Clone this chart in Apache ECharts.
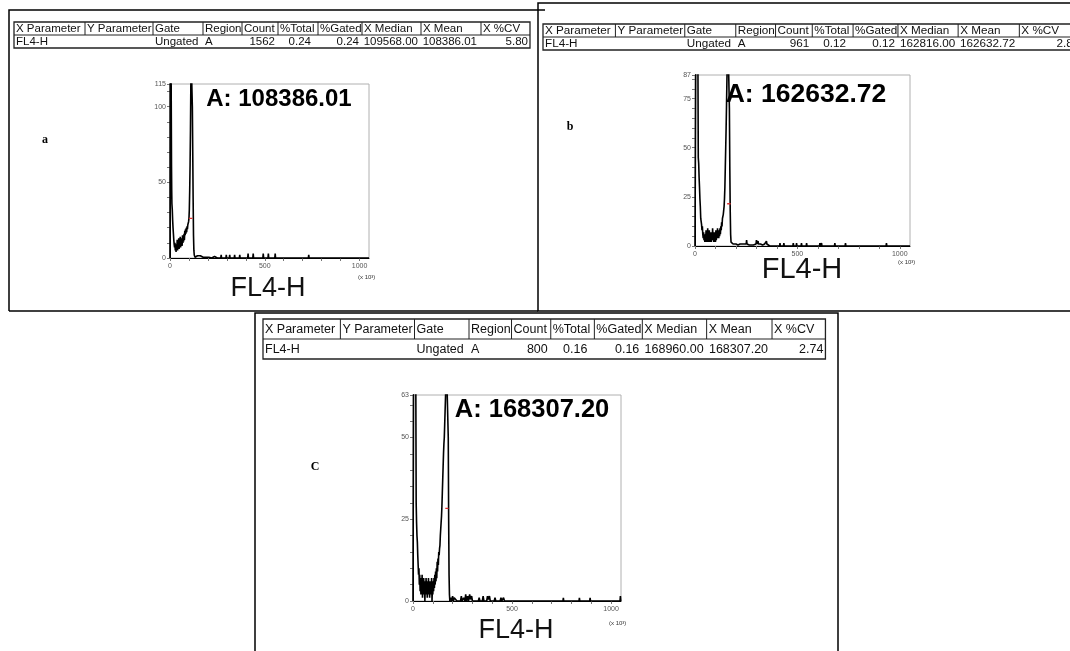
<!DOCTYPE html>
<html>
<head>
<meta charset="utf-8">
<script src="https://cdn.jsdelivr.net/npm/echarts@6/dist/echarts.min.js"></script>
<style>
html,body{margin:0;padding:0;background:#fff;}
#chart{width:1070px;height:651px;}
</style>
</head>
<body>
<div id="chart"></div>
<script>
// ---------- table data ----------
const tableHeader = ['X Parameter','Y Parameter','Gate','Region','Count','%Total','%Gated','X Median','X Mean','X %CV'];
const rowA = ['FL4-H','','Ungated','A','1562','0.24','0.24','109568.00','108386.01','5.80'];
const rowB = ['FL4-H','','Ungated','A','961','0.12','0.12','162816.00','162632.72','2.80'];
const rowC = ['FL4-H','','Ungated','A','800','0.16','0.16','168960.00','168307.20','2.74'];
const panelLetters = ['a','b','C'];
const xAxisLabel = 'FL4-H';

// ---------- axis ticks ----------
const xTickLabels = [0, 500, 1000];
const yTickLabelsA = [0, 50, 100, 115];
const yTickLabelsB = [0, 25, 50, 75, 87];
const yTickLabelsC = [0, 25, 50, 63];

// ---------- histogram data [FL4-H (x10^3), count] ----------
const histA = [[0,0],[1,130],[4,130],[6,120],[8,60],[9,45],[10,36],[12,32],[14,25],[16,20],[18,16],[20,12],[22,9],[24,7],[26,10],[28,5],[30,8],[32,4],[34,9],[36,6],[38,12],[40,5],[42,10],[44,7],[46,13],[48,6],[50,11],[52,8],[54,14],[56,7],[58,12],[60,9],[62,13],[64,8],[66,15],[68,10],[70,14],[72,11],[74,16],[76,12],[78,18],[80,15],[82,19],[84,16],[86,20],[88,17],[90,21],[92,19],[94,22],[96,21],[98,24],[100,26],[102,32],[104,45],[106,62],[108,85],[110,115],[112,130],[115,130],[118,100],[120,70],[122,40],[124,15],[126,5],[128,2],[132,0.5],[136,1],[140,0.5],[145,1.5],[150,0.5],[155,1],[160,1.5],[165,0.5],[170,1.5],[175,0.5],[180,1],[185,1.5],[190,0.5],[195,1],[200,1.5],[205,0.5],[210,1],[215,1.5],[220,0],[225,1],[230,0],[235,1],[240,0],[245,1],[250,0],[268,0],[270,2],[272,0],[295,0],[297,2],[299,0],[313,0],[315,2],[317,0],[339,0],[341,2],[343,0],[366,0],[368,2],[370,0],[410,0],[412,3],[414,0],[437,0],[439,3],[441,0],[490,0],[492,3],[494,0],[517,0],[519,3],[521,0],[553,0],[555,3],[557,0],[730,0],[732,2],[734,0],[1050,0]];

const histB = [[0,0],[3,0],[4,100],[14,100],[16,45],[18,42],[20,35],[22,30],[24,24],[26,20],[28,14],[30,13],[32,11],[34,8],[36,10],[38,6],[40,4],[42,7],[44,3],[46,5],[48,2],[50,6],[52,3],[54,8],[56,2],[58,5],[60,3],[62,9],[64,2],[66,6],[68,4],[70,8],[72,2],[74,5],[76,3],[78,7],[80,2],[82,6],[84,3],[86,9],[88,4],[90,6],[92,2],[94,7],[96,3],[98,5],[100,2],[102,8],[104,3],[106,6],[108,4],[110,9],[112,5],[114,7],[116,4],[118,8],[120,5],[122,9],[124,6],[126,10],[128,8],[130,12],[132,10],[134,14],[136,13],[138,16],[140,18],[142,20],[144,24],[146,30],[148,40],[150,50],[152,60],[154,72],[156,85],[158,95],[162,100],[166,100],[168,70],[170,40],[172,18],[174,6],[176,2],[178,1],[182,2],[186,1],[190,1.5],[195,0.5],[200,1],[205,1],[210,0.5],[215,1],[220,1],[225,0.5],[230,1],[235,0.5],[240,1],[245,0.5],[250,1],[252,3],[254,1],[260,1],[265,0.5],[270,1],[275,0.5],[280,1],[285,0.5],[290,1],[298,1],[300,3],[302,1],[306,1],[308,2.5],[310,1],[320,1],[330,0.5],[340,1],[347,1],[349,2.5],[351,1],[355,0.5],[360,1],[365,0],[413,0],[415,1.5],[417,0],[432,0],[434,1.5],[436,0],[478,0],[480,1.5],[482,0],[494,0],[496,1.5],[498,0],[518,0],[520,1.5],[522,0],[543,0],[545,1.5],[547,0],[608,0],[610,1.5],[612,0],[616,0],[618,1.5],[620,0],[681,0],[683,1.5],[685,0],[733,0],[735,1.5],[737,0],[933,0],[935,1.5],[937,0],[1050,0]];

const histC = [[0,0],[2,0],[3,70],[14,70],[16,30],[18,24],[20,20],[22,18],[24,14],[26,11],[28,8],[30,10],[32,5],[34,8],[36,3],[38,7],[40,2],[42,6],[44,4],[46,8],[48,1],[50,5],[52,3],[54,7],[56,2],[58,6],[60,0],[62,5],[64,2],[66,7],[68,3],[70,6],[72,1],[74,5],[76,2],[78,7],[80,3],[82,6],[84,1],[86,4],[88,2],[90,6],[92,3],[94,7],[96,0],[98,4],[100,2],[102,6],[104,3],[106,7],[108,4],[110,8],[112,5],[114,9],[116,6],[118,10],[120,7],[122,12],[124,9],[126,13],[128,11],[130,15],[132,14],[134,16],[136,17],[138,20],[140,22],[142,24],[144,26],[146,29],[148,33],[150,37],[152,41],[154,45],[156,48],[158,50],[160,54],[162,58],[164,62],[166,66],[170,70],[176,70],[178,50],[180,25],[182,8],[184,2],[186,0],[192,1],[196,0],[200,1.5],[204,0],[208,1],[212,0.5],[218,1.5],[222,0],[240,0],[244,1.5],[248,0],[256,1],[262,0],[266,2],[270,0],[276,1.5],[280,0],[286,2],[290,0.5],[296,1.5],[300,0],[330,0],[334,1],[338,0],[350,0],[354,1.5],[358,0],[372,0],[376,1.5],[380,0.5],[386,1.5],[390,0],[410,0],[414,1],[418,0],[440,0],[444,1],[448,0],[457,1],[462,0],[757,0],[759,1],[761,0],[838,0],[840,1],[842,0],[892,0],[894,1],[896,0],[1045,0],[1047,1.5],[1049,0],[1050,0]];

// region A marker [x1, x2, level]
const regionA = [100, 118, 26.2];
const regionB = [157, 174, 21.5];
const regionC = [163, 179, 28.3];

// ---------- layout ----------
const FONT = '"Liberation Sans", Arial, sans-serif';
const colW = [71,68,50,39,36,40,44,59,60,49];
const padR = [0,0,0,0,3,7,3,3,4,2];

function makeTable(x0, y0, rowH, k, fs, header, row, lastW) {
  const els = [];
  const edges = [x0];
  colW.forEach((w,i) => edges.push(edges[edges.length-1] + ((i===colW.length-1 && lastW) ? lastW : w*k)));
  const right = edges[edges.length-1];
  const line = (x1,y1,x2,y2,w) => els.push({type:'line', shape:{x1,y1,x2,y2}, style:{stroke:'#222', lineWidth:w||1}, silent:true});
  els.push({type:'rect', shape:{x:x0, y:y0, width:right-x0, height:rowH*2}, style:{fill:'none', stroke:'#222', lineWidth:1.3}, silent:true});
  line(x0, y0+rowH, right, y0+rowH);
  for (let i=1;i<edges.length-1;i++) line(edges[i], y0, edges[i], y0+rowH);
  header.forEach((t,i)=>{
    els.push({type:'text', style:{text:t, x:edges[i]+2, y:y0+rowH/2+0.5, font: fs+'px '+FONT, fill:'#111', textAlign:'left', textVerticalAlign:'middle'}, silent:true});
  });
  row.forEach((t,i)=>{
    if (!t) return;
    const leftAl = i<4;
    els.push({type:'text', style:{text:t, x: leftAl ? edges[i]+2 : edges[i+1]-padR[i], y:y0+rowH*1.5+0.5, font: fs+'px '+FONT, fill:'#111', textAlign: leftAl?'left':'right', textVerticalAlign:'middle'}, silent:true});
  });
  return els;
}

const grids = [
  {left:170, top:84, width:199, height:174},
  {left:695, top:75, width:215, height:171},
  {left:413, top:395, width:208, height:206}
];
const yMax = [115, 87, 63];
const yInt = [10, 5, 5];
const yLabs = [yTickLabelsA, yTickLabelsB, yTickLabelsC];
const hists = [histA, histB, histC];
const regions = [regionA, regionB, regionC];

const option = {
  animation:false,
  backgroundColor:'#fff',
  grid: grids.map(g => Object.assign({show:true, borderColor:'#b0b0b0', borderWidth:1, backgroundColor:'transparent', containLabel:false}, g)),
  xAxis: grids.map((g,i)=>({
    type:'value', gridIndex:i, min:0, max:1050, interval:100,
    axisLine:{show:true, onZero:false, lineStyle:{color:'#000', width:1}},
    axisTick:{show:true, length:3, lineStyle:{color:'#777'}},
    splitLine:{show:false},
    axisLabel:{fontSize:7, color:'#555', margin:5, fontFamily:FONT, showMaxLabel:false,
      formatter: v => xTickLabels.indexOf(v) >= 0 ? String(v) : ''}
  })),
  yAxis: grids.map((g,i)=>({
    type:'value', gridIndex:i, min:0, max:yMax[i], interval:yInt[i],
    axisLine:{show:true, onZero:false, lineStyle:{color:'#000', width:1}},
    axisTick:{show:true, length:3, lineStyle:{color:'#777'}},
    splitLine:{show:false},
    axisLabel:{fontSize:7, color:'#555', margin:4, fontFamily:FONT, showMaxLabel:true,
      formatter: v => yLabs[i].indexOf(v) >= 0 ? String(v) : ''}
  })),
  series: [].concat(
    hists.map((d,i)=>({type:'line', xAxisIndex:i, yAxisIndex:i, data:d, symbol:'none', clip:true,
      lineStyle:{color:'#000', width:1.6}, silent:true, z:3})),
    regions.map((r,i)=>({type:'line', xAxisIndex:i, yAxisIndex:i, data:[[r[0],r[2]],[r[1],r[2]]], symbol:'none',
      lineStyle:{color:'#e03030', width:1.3}, silent:true, z:4}))
  ),
  graphic: [].concat(
    [
      {type:'polyline', shape:{points:[[9,311],[9,10],[545,10]]}, style:{fill:'none', stroke:'#000', lineWidth:1.5}, silent:true},
      {type:'polyline', shape:{points:[[1072,3],[538,3],[538,311],[1072,311]]}, style:{fill:'none', stroke:'#000', lineWidth:1.5}, silent:true},
      {type:'line', shape:{x1:9, y1:311, x2:538, y2:311}, style:{stroke:'#000', lineWidth:1.5}, silent:true},
      {type:'polyline', shape:{points:[[255,653],[255,313],[838,313],[838,653]]}, style:{fill:'none', stroke:'#000', lineWidth:1.5}, silent:true}
    ],
    makeTable(14, 22, 13, 1.0, 11.5, tableHeader, rowA),
    makeTable(543, 24, 13, 1.02, 11.7, tableHeader, rowB, 62),
    makeTable(263, 319, 20, 1.09, 12.5, tableHeader, rowC),
    [
      {type:'text', style:{text:'A: '+rowA[8], x:279, y:99.5, font:'bold 24px '+FONT, fill:'#000', textAlign:'center', textVerticalAlign:'middle'}, z:10},
      {type:'text', style:{text:'A: '+rowB[8], x:806, y:95, font:'bold 26.5px '+FONT, fill:'#000', textAlign:'center', textVerticalAlign:'middle'}, z:10},
      {type:'text', style:{text:'A: '+rowC[8], x:532, y:410, font:'bold 25.5px '+FONT, fill:'#000', textAlign:'center', textVerticalAlign:'middle'}, z:10},
      {type:'text', style:{text:xAxisLabel, x:268, y:289, font:'27px '+FONT, fill:'#111', textAlign:'center', textVerticalAlign:'middle'}},
      {type:'text', style:{text:xAxisLabel, x:802, y:270, font:'29px '+FONT, fill:'#111', textAlign:'center', textVerticalAlign:'middle'}},
      {type:'text', style:{text:xAxisLabel, x:516, y:631, font:'27px '+FONT, fill:'#111', textAlign:'center', textVerticalAlign:'middle'}},
      {type:'text', style:{text:'(x 10³)', x:358, y:277, font:'6px '+FONT, fill:'#333', textAlign:'left', textVerticalAlign:'middle'}},
      {type:'text', style:{text:'(x 10³)', x:898, y:262, font:'6px '+FONT, fill:'#333', textAlign:'left', textVerticalAlign:'middle'}},
      {type:'text', style:{text:'(x 10³)', x:609, y:623, font:'6px '+FONT, fill:'#333', textAlign:'left', textVerticalAlign:'middle'}},
      {type:'text', style:{text:panelLetters[0], x:45, y:140, font:'bold 12px "Liberation Serif", serif', fill:'#000', textAlign:'center', textVerticalAlign:'middle'}},
      {type:'text', style:{text:panelLetters[1], x:570, y:127, font:'bold 12px "Liberation Serif", serif', fill:'#000', textAlign:'center', textVerticalAlign:'middle'}},
      {type:'text', style:{text:panelLetters[2], x:315, y:467, font:'bold 12px "Liberation Serif", serif', fill:'#000', textAlign:'center', textVerticalAlign:'middle'}}
    ]
  )
};

const chart = echarts.init(document.getElementById('chart'), null, {renderer:'canvas'});
chart.setOption(option);
</script>
</body>
</html>
